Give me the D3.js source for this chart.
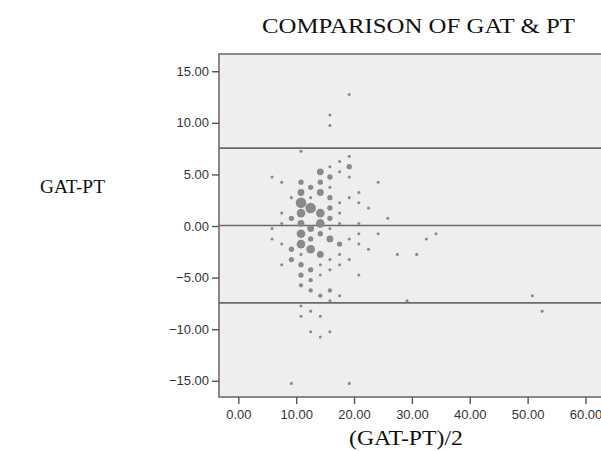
<!DOCTYPE html>
<html>
<head>
<meta charset="utf-8">
<script src="https://cdn.jsdelivr.net/npm/d3@7"></script>
<style>
  body { margin: 0; background: #fff; }
  svg { display: block; }
</style>
</head>
<body>
<svg id="chart"></svg>
<script>
// mean of the two readings (x), difference (y), and how many cases share the spot
const meanVals = [
  5.83, 5.83, 5.83,
  7.5, 7.5, 7.5, 7.5, 7.5,
  9.17, 9.17, 9.17, 9.17, 9.17,
  10.83, 10.83, 10.83, 10.83, 10.83, 10.83, 10.83, 10.83, 10.83, 10.83, 10.83, 10.83, 10.83, 10.83,
  12.5, 12.5, 12.5, 12.5, 12.5, 12.5, 12.5, 12.5, 12.5, 12.5, 12.5,
  14.17, 14.17, 14.17, 14.17, 14.17, 14.17, 14.17, 14.17, 14.17, 14.17, 14.17, 14.17,
  15.83, 15.83, 15.83, 15.83, 15.83, 15.83, 15.83, 15.83, 15.83, 15.83, 15.83, 15.83, 15.83, 15.83, 15.83,
  17.5, 17.5, 17.5, 17.5, 17.5, 17.5, 17.5, 17.5, 17.5,
  19.17, 19.17, 19.17, 19.17, 19.17, 19.17, 19.17, 19.17,
  20.83, 20.83, 20.83, 20.83, 20.83, 20.83,
  22.5, 22.5,
  24.17, 24.17,
  25.83, 27.5, 29.17, 30.83, 32.5, 34.17, 50.83, 52.5
];
const diffVals = [
  4.75, -0.25, -1.25,
  4.25, 1.25, 0.25, -1.75, -3.75,
  2.75, 0.75, -2.25, -3.25, -15.25,
  7.25, 4.25, 3.25, 2.25, 1.25, 0.25, -0.75, -1.75, -2.75, -3.75, -4.75, -5.75, -7.75, -8.75,
  3.75, 2.75, 1.75, -0.25, -1.25, -2.25, -4.25, -5.25, -6.25, -8.25, -10.25,
  5.25, 4.25, 3.25, 1.25, 0.25, -0.75, -2.75, -3.75, -4.75, -6.75, -8.75, -10.75,
  10.75, 9.75, 5.75, 4.75, 3.75, 2.75, 1.75, 0.75, -0.25, -1.25, -3.25, -4.25, -6.25, -7.25, -10.25,
  6.25, 5.25, 2.25, 1.25, 0.25, -1.75, -2.75, -3.75, -6.75,
  12.75, 6.75, 5.75, 4.75, 2.75, -1.25, -3.25, -15.25,
  3.25, 2.25, 0.25, -0.75, -1.75, -4.75,
  1.75, -2.25,
  4.25, -0.75,
  0.75, -2.75, -7.25, -2.75, -1.25, -0.75, -6.75, -8.25
];
const counts = [
  1, 1, 1,
  1, 1, 1, 1, 1,
  1, 3, 3, 3, 1,
  1, 3, 5, 12, 8, 5, 8, 8, 1, 3, 3, 2, 1, 1,
  3, 1, 12, 5, 3, 8, 3, 2, 2, 1, 1,
  5, 3, 5, 8, 8, 3, 5, 1, 1, 2, 1, 1,
  1, 1, 1, 3, 1, 3, 3, 3, 1, 5, 1, 1, 2, 1, 1,
  1, 1, 1, 1, 1, 3, 1, 1, 1,
  1, 1, 3, 1, 1, 1, 1, 1,
  1, 1, 1, 1, 1, 1,
  1, 1,
  1, 1,
  1, 1, 1, 1, 1, 1, 1, 1
];

// mean difference and limits of agreement
const refLines = [7.55, 0.05, -7.45];

const xTicks = [0, 10, 20, 30, 40, 50, 60];
const yTicks = [-15, -10, -5, 0, 5, 10, 15];

const title = "COMPARISON OF GAT & PT";
const xTitle = "(GAT-PT)/2";
const yTitle = "GAT-PT";

const width = 601, height = 451;
const plot = { left: 219, top: 54, right: 604, bottom: 397 };

const svg = d3.select('#chart')
  .attr('width', width)
  .attr('height', height);

const x = d3.scaleLinear().domain([-3.34, 63.2]).range([plot.left, plot.right]);
const y = d3.scaleLinear().domain([-16.57, 16.67]).range([plot.bottom, plot.top]);
const r = d3.scaleSqrt().domain([0, 12]).range([0, 5.3]);

// plot background
svg.append('rect')
  .attr('x', plot.left)
  .attr('y', plot.top)
  .attr('width', plot.right - plot.left)
  .attr('height', plot.bottom - plot.top)
  .attr('fill', '#eeeeee')
  .attr('stroke', '#6f6f6f')
  .attr('stroke-width', 1.6);

// axes
const fmt = d3.format('.2f');

const yAxis = svg.append('g')
  .attr('transform', `translate(${plot.left},0)`)
  .call(d3.axisLeft(y).tickValues(yTicks).tickFormat(fmt).tickSize(7).tickSizeOuter(0));

const xAxis = svg.append('g')
  .attr('transform', `translate(0,${plot.bottom})`)
  .call(d3.axisBottom(x).tickValues(xTicks).tickFormat(fmt).tickSize(7).tickSizeOuter(0));

[xAxis, yAxis].forEach(a => {
  a.select('.domain').remove();
  a.selectAll('line').attr('stroke', '#555').attr('stroke-width', 1.4);
  a.selectAll('text')
    .attr('fill', '#333')
    .style('font-family', '"Liberation Sans", Arial, sans-serif')
    .style('font-size', '13px');
});
yAxis.selectAll('text').attr('x', -10);
xAxis.selectAll('text').attr('y', 13);

// reference lines
svg.append('g')
  .selectAll('line')
  .data(refLines)
  .join('line')
  .attr('x1', plot.left)
  .attr('x2', plot.right)
  .attr('y1', d => y(d))
  .attr('y2', d => y(d))
  .attr('stroke', '#6a6a6a')
  .attr('stroke-width', 1.6);

// bubbles
const points = meanVals.map((m, i) => ({ x: m, y: diffVals[i], n: counts[i] }));

svg.append('g')
  .selectAll('circle')
  .data(points)
  .join('circle')
  .attr('cx', d => x(d.x))
  .attr('cy', d => y(d.y))
  .attr('r', d => r(d.n))
  .attr('fill', '#8a8a8a');

// titles (the original's serif text is a little wider than Times, so stretch it)
const serif = '"Liberation Serif", "Times New Roman", serif';

svg.append('text')
  .attr('x', 262)
  .attr('y', 33)
  .attr('textLength', 313)
  .attr('lengthAdjust', 'spacingAndGlyphs')
  .style('font-family', serif)
  .style('font-size', '21px')
  .attr('fill', '#111')
  .text(title);

svg.append('text')
  .attr('x', 40)
  .attr('y', 193)
  .attr('textLength', 65)
  .attr('lengthAdjust', 'spacingAndGlyphs')
  .style('font-family', serif)
  .style('font-size', '19px')
  .attr('fill', '#111')
  .text(yTitle);

svg.append('text')
  .attr('x', 349)
  .attr('y', 445)
  .attr('textLength', 114)
  .attr('lengthAdjust', 'spacingAndGlyphs')
  .style('font-family', serif)
  .style('font-size', '21px')
  .attr('fill', '#111')
  .text(xTitle);
</script>
</body>
</html>
